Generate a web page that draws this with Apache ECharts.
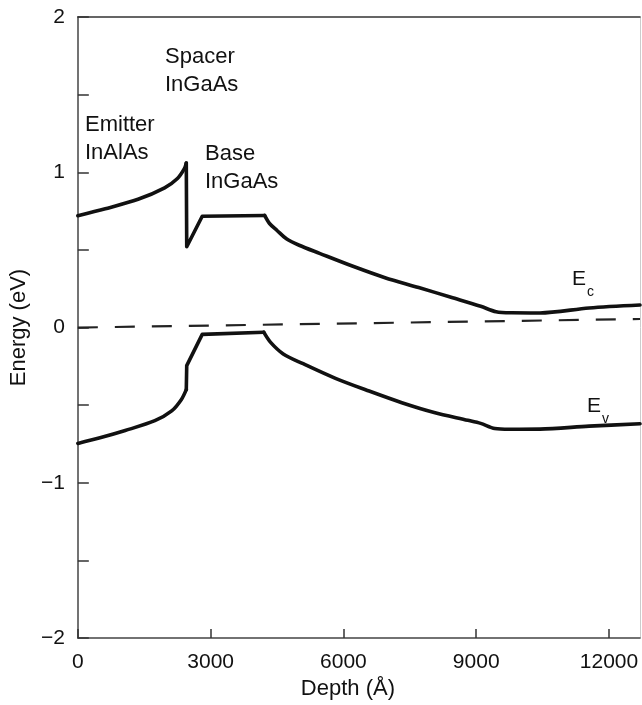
<!DOCTYPE html>
<html>
<head>
<meta charset="utf-8">
<script src="https://cdn.jsdelivr.net/npm/echarts@6/dist/echarts.min.js"></script>
<style>
  html, body { margin: 0; padding: 0; background: #fff; }
  #chart { width: 642px; height: 705px; }
</style>
</head>
<body>
<div id="chart"></div>
<script>
// Conduction band edge E_c (depth in Å, energy in eV), split by layer
const ecEmitterDepth  = [0, 620, 1360, 1960, 2250, 2410, 2450];
const ecEmitterEnergy = [0.72, 0.765, 0.826, 0.90, 0.96, 1.025, 1.06];
const ecSpacerDepth   = [2450, 2460, 2810, 4220];
const ecSpacerEnergy  = [1.06, 0.52, 0.717, 0.722];
const ecCollDepth     = [4220, 4330, 4500, 4720, 5000, 5460, 6200, 6940, 7700, 8430, 9100, 9450, 9800, 10440, 11550, 12700];
const ecCollEnergy    = [0.722, 0.67, 0.625, 0.57, 0.53, 0.478, 0.396, 0.321, 0.258, 0.195, 0.137, 0.102, 0.095, 0.094, 0.126, 0.145];

// Valence band edge E_v, split by layer
const evEmitterDepth  = [0, 500, 1070, 1740, 2120, 2340, 2450];
const evEmitterEnergy = [-0.746, -0.71, -0.663, -0.60, -0.537, -0.463, -0.40];
const evSpacerDepth   = [2450, 2460, 2810, 4200];
const evSpacerEnergy  = [-0.40, -0.245, -0.044, -0.03];
const evCollDepth     = [4200, 4350, 4640, 5090, 5820, 6580, 7320, 8050, 8810, 9100, 9420, 9750, 10440, 11550, 12700];
const evCollEnergy    = [-0.03, -0.094, -0.17, -0.233, -0.327, -0.409, -0.484, -0.547, -0.597, -0.617, -0.65, -0.655, -0.654, -0.635, -0.62];

// Fermi level reference (dashed)
const fermiDepth  = [0, 12700];
const fermiEnergy = [0, 0.055];

// Axis ticks
const depthTicks  = [0, 3000, 6000, 9000, 12000];
const energyTicks = [-2, -1, 0, 1, 2];

// Layer names
const layerLabels = [
  ['Emitter', 'InAlAs'],
  ['Spacer', 'InGaAs'],
  ['Base', 'InGaAs']
];

const zip = (xs, ys) => xs.map((x, i) => [x, ys[i]]);
const FONT = '"Liberation Sans", Arial, Helvetica, sans-serif';
const INK = '#111';

const bandLine = (name, xs, ys, smooth) => ({
  name: name,
  type: 'line',
  data: zip(xs, ys),
  showSymbol: false,
  smooth: smooth ? 0.3 : false,
  lineStyle: { color: INK, width: 3.6, join: 'round', cap: 'round' }
});

const subLabel = (main, sub) => ({
  type: 'text',
  style: {
    text: '{e|' + main + '}{s|' + sub + '}',
    rich: {
      e: { fontFamily: FONT, fontSize: 21, fill: INK, lineHeight: 24 },
      s: { fontFamily: FONT, fontSize: 14, fill: INK, lineHeight: 24, verticalAlign: 'bottom', padding: [0, 0, -8, 1] }
    }
  }
});

const chart = echarts.init(document.getElementById('chart'), null, { renderer: 'canvas' });

chart.setOption({
  animation: false,
  backgroundColor: '#fff',
  grid: { left: 72, right: 2, top: 17, bottom: 59, show: false },
  xAxis: [
    {
      type: 'value',
      min: 0,
      max: 12700,
      interval: 3000,
      name: 'Depth (Å)',
      nameLocation: 'middle',
      nameGap: 32,
      nameTextStyle: { fontFamily: FONT, fontSize: 22, color: INK, padding: [0, 22, 0, 0] },
      axisLine: { show: true, onZero: false, lineStyle: { color: '#444', width: 1.5 } },
      axisTick: { show: true, inside: true, length: 9, lineStyle: { color: '#333', width: 1.5 } },
      axisLabel: {
        fontFamily: FONT, fontSize: 21, color: INK, margin: 14,
        showMaxLabel: false,
        formatter: v => depthTicks.includes(v) ? String(v) : ''
      },
      splitLine: { show: false }
    },
    {
      type: 'value',
      position: 'top',
      min: 0,
      max: 12700,
      axisLine: { show: true, onZero: false, lineStyle: { color: '#333', width: 1.5 } },
      axisTick: { show: false },
      axisLabel: { show: false },
      splitLine: { show: false }
    }
  ],
  yAxis: [
    {
      type: 'value',
      min: -2,
      max: 2,
      interval: 0.5,
      name: 'Energy (eV)',
      nameLocation: 'middle',
      nameGap: 42,
      nameRotate: 90,
      nameTextStyle: { fontFamily: FONT, fontSize: 22, color: INK },
      axisLine: { show: true, onZero: false, lineStyle: { color: '#444', width: 1.5 } },
      axisTick: { show: true, inside: true, length: 11, lineStyle: { color: '#333', width: 1.5 } },
      axisLabel: {
        fontFamily: FONT, fontSize: 21, color: INK, margin: 13,
        formatter: v => energyTicks.includes(v) ? String(v).replace('-', '\u2212') : ''
      },
      splitLine: { show: false }
    },
    {
      type: 'value',
      position: 'right',
      min: -2,
      max: 2,
      axisLine: { show: true, onZero: false, lineStyle: { color: '#ccc', width: 1 } },
      axisTick: { show: false },
      axisLabel: { show: false },
      splitLine: { show: false }
    }
  ],
  series: [
    bandLine('Ec emitter', ecEmitterDepth, ecEmitterEnergy, true),
    bandLine('Ec spacer', ecSpacerDepth, ecSpacerEnergy, false),
    bandLine('Ec collector', ecCollDepth, ecCollEnergy, true),
    bandLine('Ev emitter', evEmitterDepth, evEmitterEnergy, true),
    bandLine('Ev spacer', evSpacerDepth, evSpacerEnergy, false),
    bandLine('Ev collector', evCollDepth, evCollEnergy, true),
    {
      name: 'EF',
      type: 'line',
      data: zip(fermiDepth, fermiEnergy),
      showSymbol: false,
      lineStyle: { color: '#222', width: 2.2, type: [20, 17] }
    }
  ],
  graphic: [
    {
      type: 'text', left: 85, top: 111,
      style: { text: layerLabels[0].join('\n'), fontFamily: FONT, fontSize: 22, lineHeight: 28, fill: INK }
    },
    {
      type: 'text', left: 165, top: 43,
      style: { text: layerLabels[1].join('\n'), fontFamily: FONT, fontSize: 22, lineHeight: 28, fill: INK }
    },
    {
      type: 'text', left: 205, top: 140,
      style: { text: layerLabels[2].join('\n'), fontFamily: FONT, fontSize: 22, lineHeight: 28, fill: INK }
    },
    Object.assign(subLabel('E', 'c'), { left: 572, top: 269 }),
    Object.assign(subLabel('E', 'v'), { left: 587, top: 396 })
  ]
});
</script>
</body>
</html>
